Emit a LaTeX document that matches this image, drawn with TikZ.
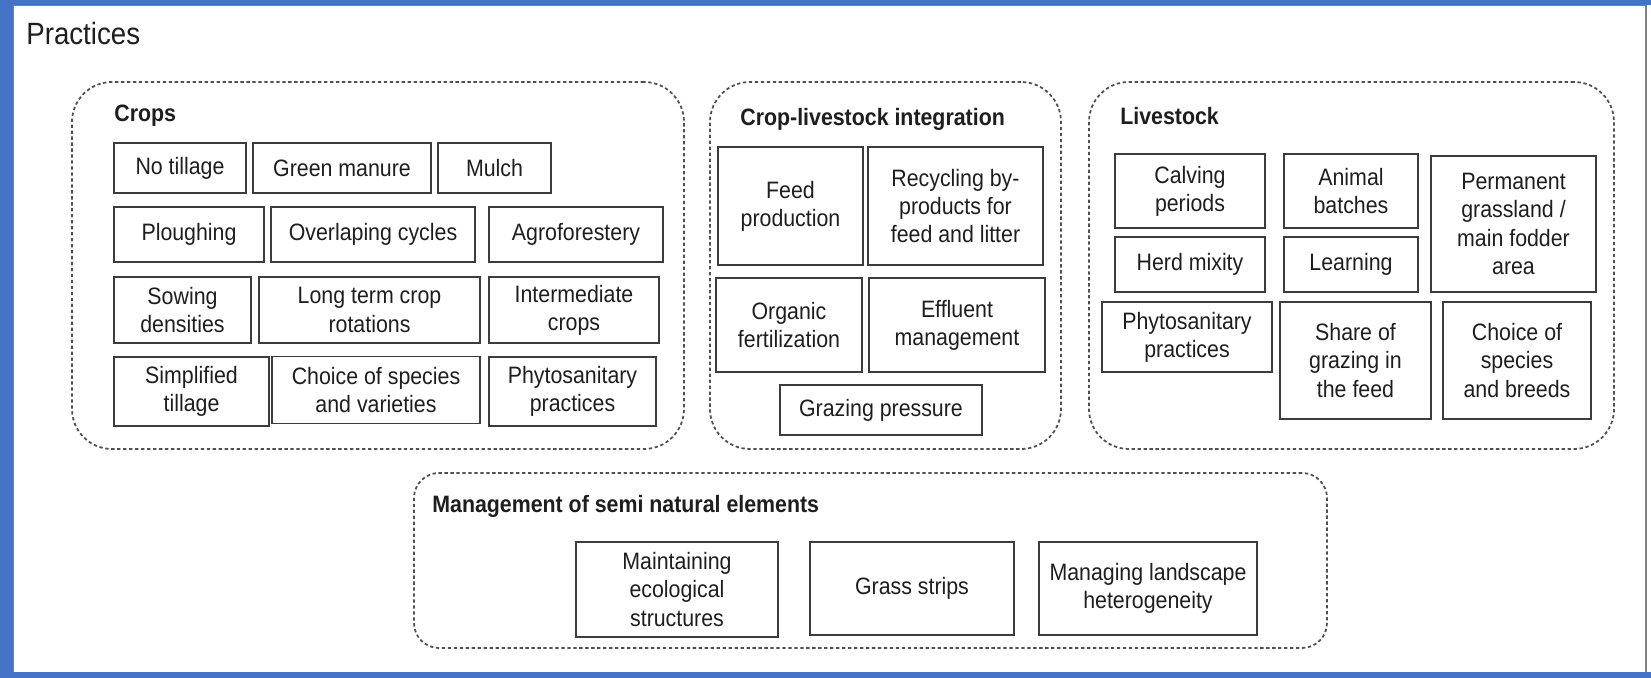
\documentclass[tikz,border=0pt]{standalone}
\usepackage{fontspec}
\setmainfont{Liberation Sans}[FakeStretch=0.9]
\definecolor{frameblue}{HTML}{4472C4}
\definecolor{boxgray}{HTML}{3C3C3C}
\definecolor{dashgray}{HTML}{505050}
\definecolor{textgray}{HTML}{1E1E1E}
\tikzset{
    pbox/.style 2 args={draw=boxgray, line width=1pt, minimum width=#1*0.02cm, minimum height=#2*0.02cm,
        inner sep=1pt, align=center, font=\fontsize{13.5}{16}\selectfont, text=textgray},
    group/.style 2 args={draw=dashgray, dash pattern=on 1.9pt off 1.5pt, line width=1pt, rounded corners=0.8cm,
        minimum width=#1*0.02cm, minimum height=#2*0.02cm},
    gtitle/.style={anchor=west, inner sep=0pt, font=\fontsize{13.5}{16}\selectfont\bfseries, text=textgray}
}

\begin{document}
\begin{tikzpicture}[x=0.02cm, y=-0.02cm]
    \useasboundingbox (0,0) rectangle (1651,678);

    % frame
    \fill[frameblue] (0,0) rectangle (1651,678);
    \fill[white] (13,5) rectangle (1651,672);
    \draw[gray, line width=0.6pt] (13.5,672) -- (13.5,5.5) -- (1646,5.5) -- (1646,672);

    \node[anchor=base west, inner sep=0pt, font=\fontsize{17.5}{20}\selectfont, text=textgray] (practices) at (26,45) {Practices};

    % groups
    \node[group={612}{367}] (crops) at (378,265.5) {};
    \node[group={351}{367}] (cli) at (885.5,265.5) {};
    \node[group={525}{367}] (livestock) at (1351.5,265.5) {};
    \node[group={913}{175}, rounded corners=0.5cm] (semi) at (870.5,560.5) {};

    \node[gtitle] (cropstitle) at (114,116) {Crops};
    \node[gtitle] (clititle) at (740,119) {Crop-livestock integration};
    \node[gtitle] (livetitle) at (1120,116) {Livestock};
    \node[gtitle] (semititle) at (432,506) {Management of semi natural elements};

    % crops
    \node[pbox={132}{50}] (notill) at (180,168) {No tillage};
    \node[pbox={178}{50}] (greenman) at (342,168) {Green manure};
    \node[pbox={113}{50}] (mulch) at (494.5,168) {Mulch};
    \node[pbox={150}{55}] (plough) at (189,234.5) {Ploughing};
    \node[pbox={204}{55}] (overlap) at (373,234.5) {Overlaping cycles};
    \node[pbox={174}{55}] (agrofor) at (576,234.5) {Agroforestery};
    \node[pbox={137}{66}] (sowing) at (182.5,310) {Sowing\\densities};
    \node[pbox={221}{66}] (rotation) at (369.5,310) {Long term crop\\rotations};
    \node[pbox={170}{66}] (intercrop) at (574,310) {Intermediate\\crops};
    \node[pbox={155}{69}] (simptill) at (191.5,391.5) {Simplified\\tillage};
    \node[pbox={208}{67}] (choicecrop) at (376,390) {Choice of species\\and varieties};
    \node[pbox={167}{69}] (phytocrop) at (572.5,391.5) {Phytosanitary\\practices};

    % crop-livestock integration
    \node[pbox={145}{118}] (feed) at (790.5,206) {Feed\\production};
    \node[pbox={175}{118}] (recycle) at (955.5,206) {Recycling by-\\products for\\feed and litter};
    \node[pbox={146}{94}] (organic) at (789,325) {Organic\\fertilization};
    \node[pbox={176}{94}] (effluent) at (957,325) {Effluent\\management};
    \node[pbox={202}{50}] (grazpress) at (881,410) {Grazing pressure};

    % livestock
    \node[pbox={150}{74}] (calving) at (1190,191) {Calving\\periods};
    \node[pbox={134}{74}] (batches) at (1351,191) {Animal\\batches};
    \node[pbox={165}{136}] (grassland) at (1513.5,224) {Permanent\\grassland /\\main fodder\\area};
    \node[pbox={150}{55}] (herdmix) at (1190,264.5) {Herd mixity};
    \node[pbox={134}{55}] (learning) at (1351,264.5) {Learning};
    \node[pbox={170}{70}] (phytolive) at (1187,337) {Phytosanitary\\practices};
    \node[pbox={151}{117}] (sharegraz) at (1355.5,360.5) {Share of\\grazing in\\the feed};
    \node[pbox={148}{117}] (choicelive) at (1517,360.5) {Choice of\\species\\and breeds};

    % semi natural elements
    \node[pbox={202}{95}] (maintain) at (677,589.5) {Maintaining\\ecological\\structures};
    \node[pbox={204}{93}] (grass) at (912,588.5) {Grass strips};
    \node[pbox={218}{93}] (landscape) at (1148,588.5) {Managing landscape\\heterogeneity};
\end{tikzpicture}
\end{document}
